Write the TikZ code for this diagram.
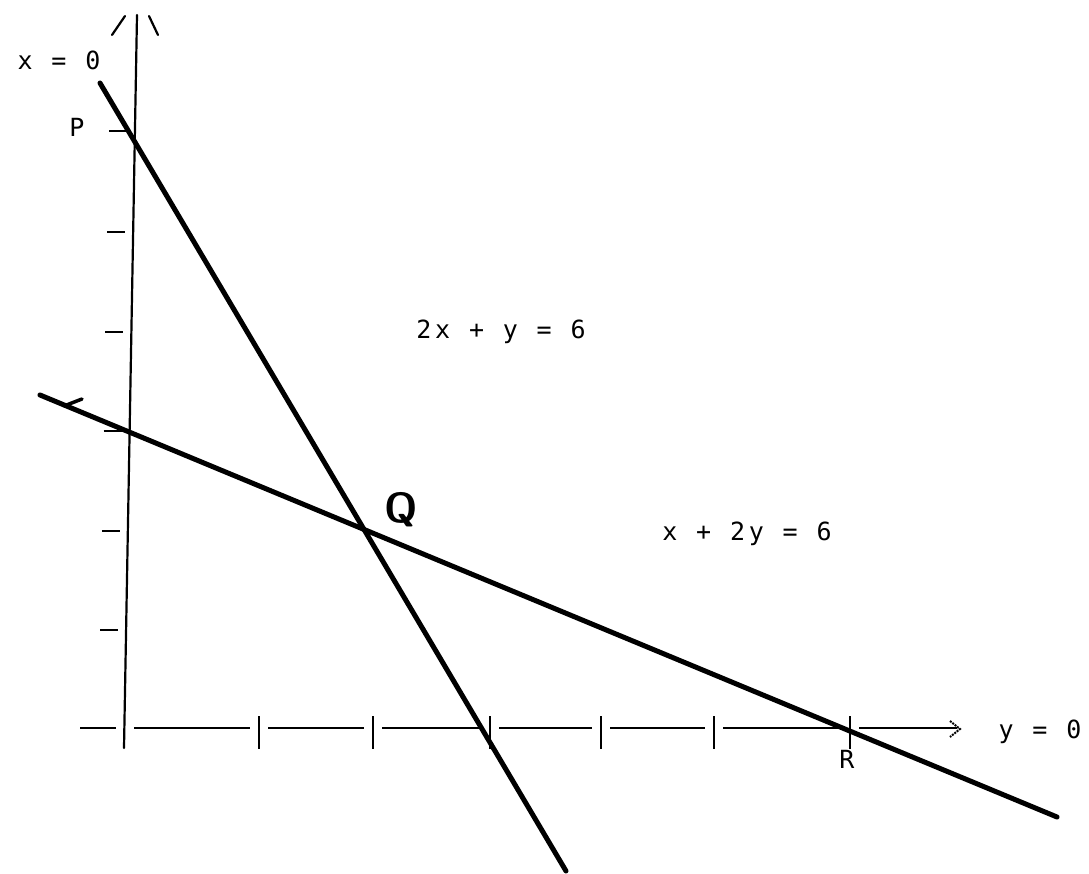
\documentclass[tikz,border=0pt]{standalone}
\usepackage{fontspec}
\newfontfamily\dotfont[LetterSpace=15]{DejaVu Sans Mono}
\tikzset{
  axisline/.style={line width=2.2pt, line cap=round},
  tickline/.style={line width=2.2pt},
  graphline/.style={line width=5pt, line cap=round},
  lbl/.style={font={\dotfont\fontsize{25}{25}\selectfont}, inner sep=0pt, anchor=base},
  qlbl/.style={font={\sffamily\bfseries\fontsize{42}{42}\selectfont}, inner sep=0pt},
}
\begin{document}
\begin{tikzpicture}[x=1pt,y=-1pt]
  \fill[white] (0,0) rectangle (1089,874);
  \useasboundingbox (0,0) rectangle (1089,874);

  % y-axis
  \coordinate (ybot) at (124,748);
  \coordinate (ytop) at (137,15);
  \draw[axisline] (ybot) -- (ytop);
  \coordinate (arlA) at (112,35); \coordinate (arlB) at (125,16);
  \coordinate (arrA) at (149,16); \coordinate (arrB) at (158,35);
  \draw[axisline] (arlA) -- (arlB);
  \draw[axisline] (arrA) -- (arrB);
  % y ticks
  \foreach \yy/\xx in {131/135, 232/133, 332/131.4, 431/129.6, 531/127.8, 630/126}
    \draw[tickline] (\xx-26,\yy) -- (\xx-8,\yy);

  % x-axis (segments between ticks)
  \foreach \a/\b in {80/116, 134/250, 268/364, 382/481, 499/592, 610/705, 723/841, 859/957}
    \draw[tickline] (\a,728) -- (\b,728);
  \foreach \xx in {259, 373, 490, 601, 714, 850}
    \draw[tickline] (\xx,716) -- (\xx,749);
  \coordinate (xa1) at (950,721);
  \coordinate (xa2) at (960,729);
  \coordinate (xa3) at (950,737);
  \draw[line width=2pt, dash pattern=on 2pt off 1pt] (xa1) -- (xa2) -- (xa3);

  % graph lines
  \coordinate (aTop) at (100,83);
  \coordinate (aBot) at (566,871);
  \draw[graphline] (aTop) -- (aBot);
  \coordinate (bLeft) at (40,395);
  \coordinate (bRight) at (1057,817);
  \draw[graphline] (bLeft) -- (bRight);
  \coordinate (mk1) at (64,406);
  \coordinate (mk2) at (82,399);
  \draw[line width=3.5pt, line cap=round] (mk1) -- (mk2);

  % labels
  \node[lbl] (lx0) at (59,70) {x = 0};
  \node[lbl] (lP) at (77,137) {P};
  \node[lbl] (leqA) at (501,338) {2x + y = 6};
  \node[lbl] (leqB) at (747,540) {x + 2y = 6};
  \node[lbl] (ly0) at (1040,738) {y = 0};
  \node[lbl] (lR) at (847,768) {R};
  \node[qlbl] (lQ) at (401,510) {Q};
\end{tikzpicture}
\end{document}
